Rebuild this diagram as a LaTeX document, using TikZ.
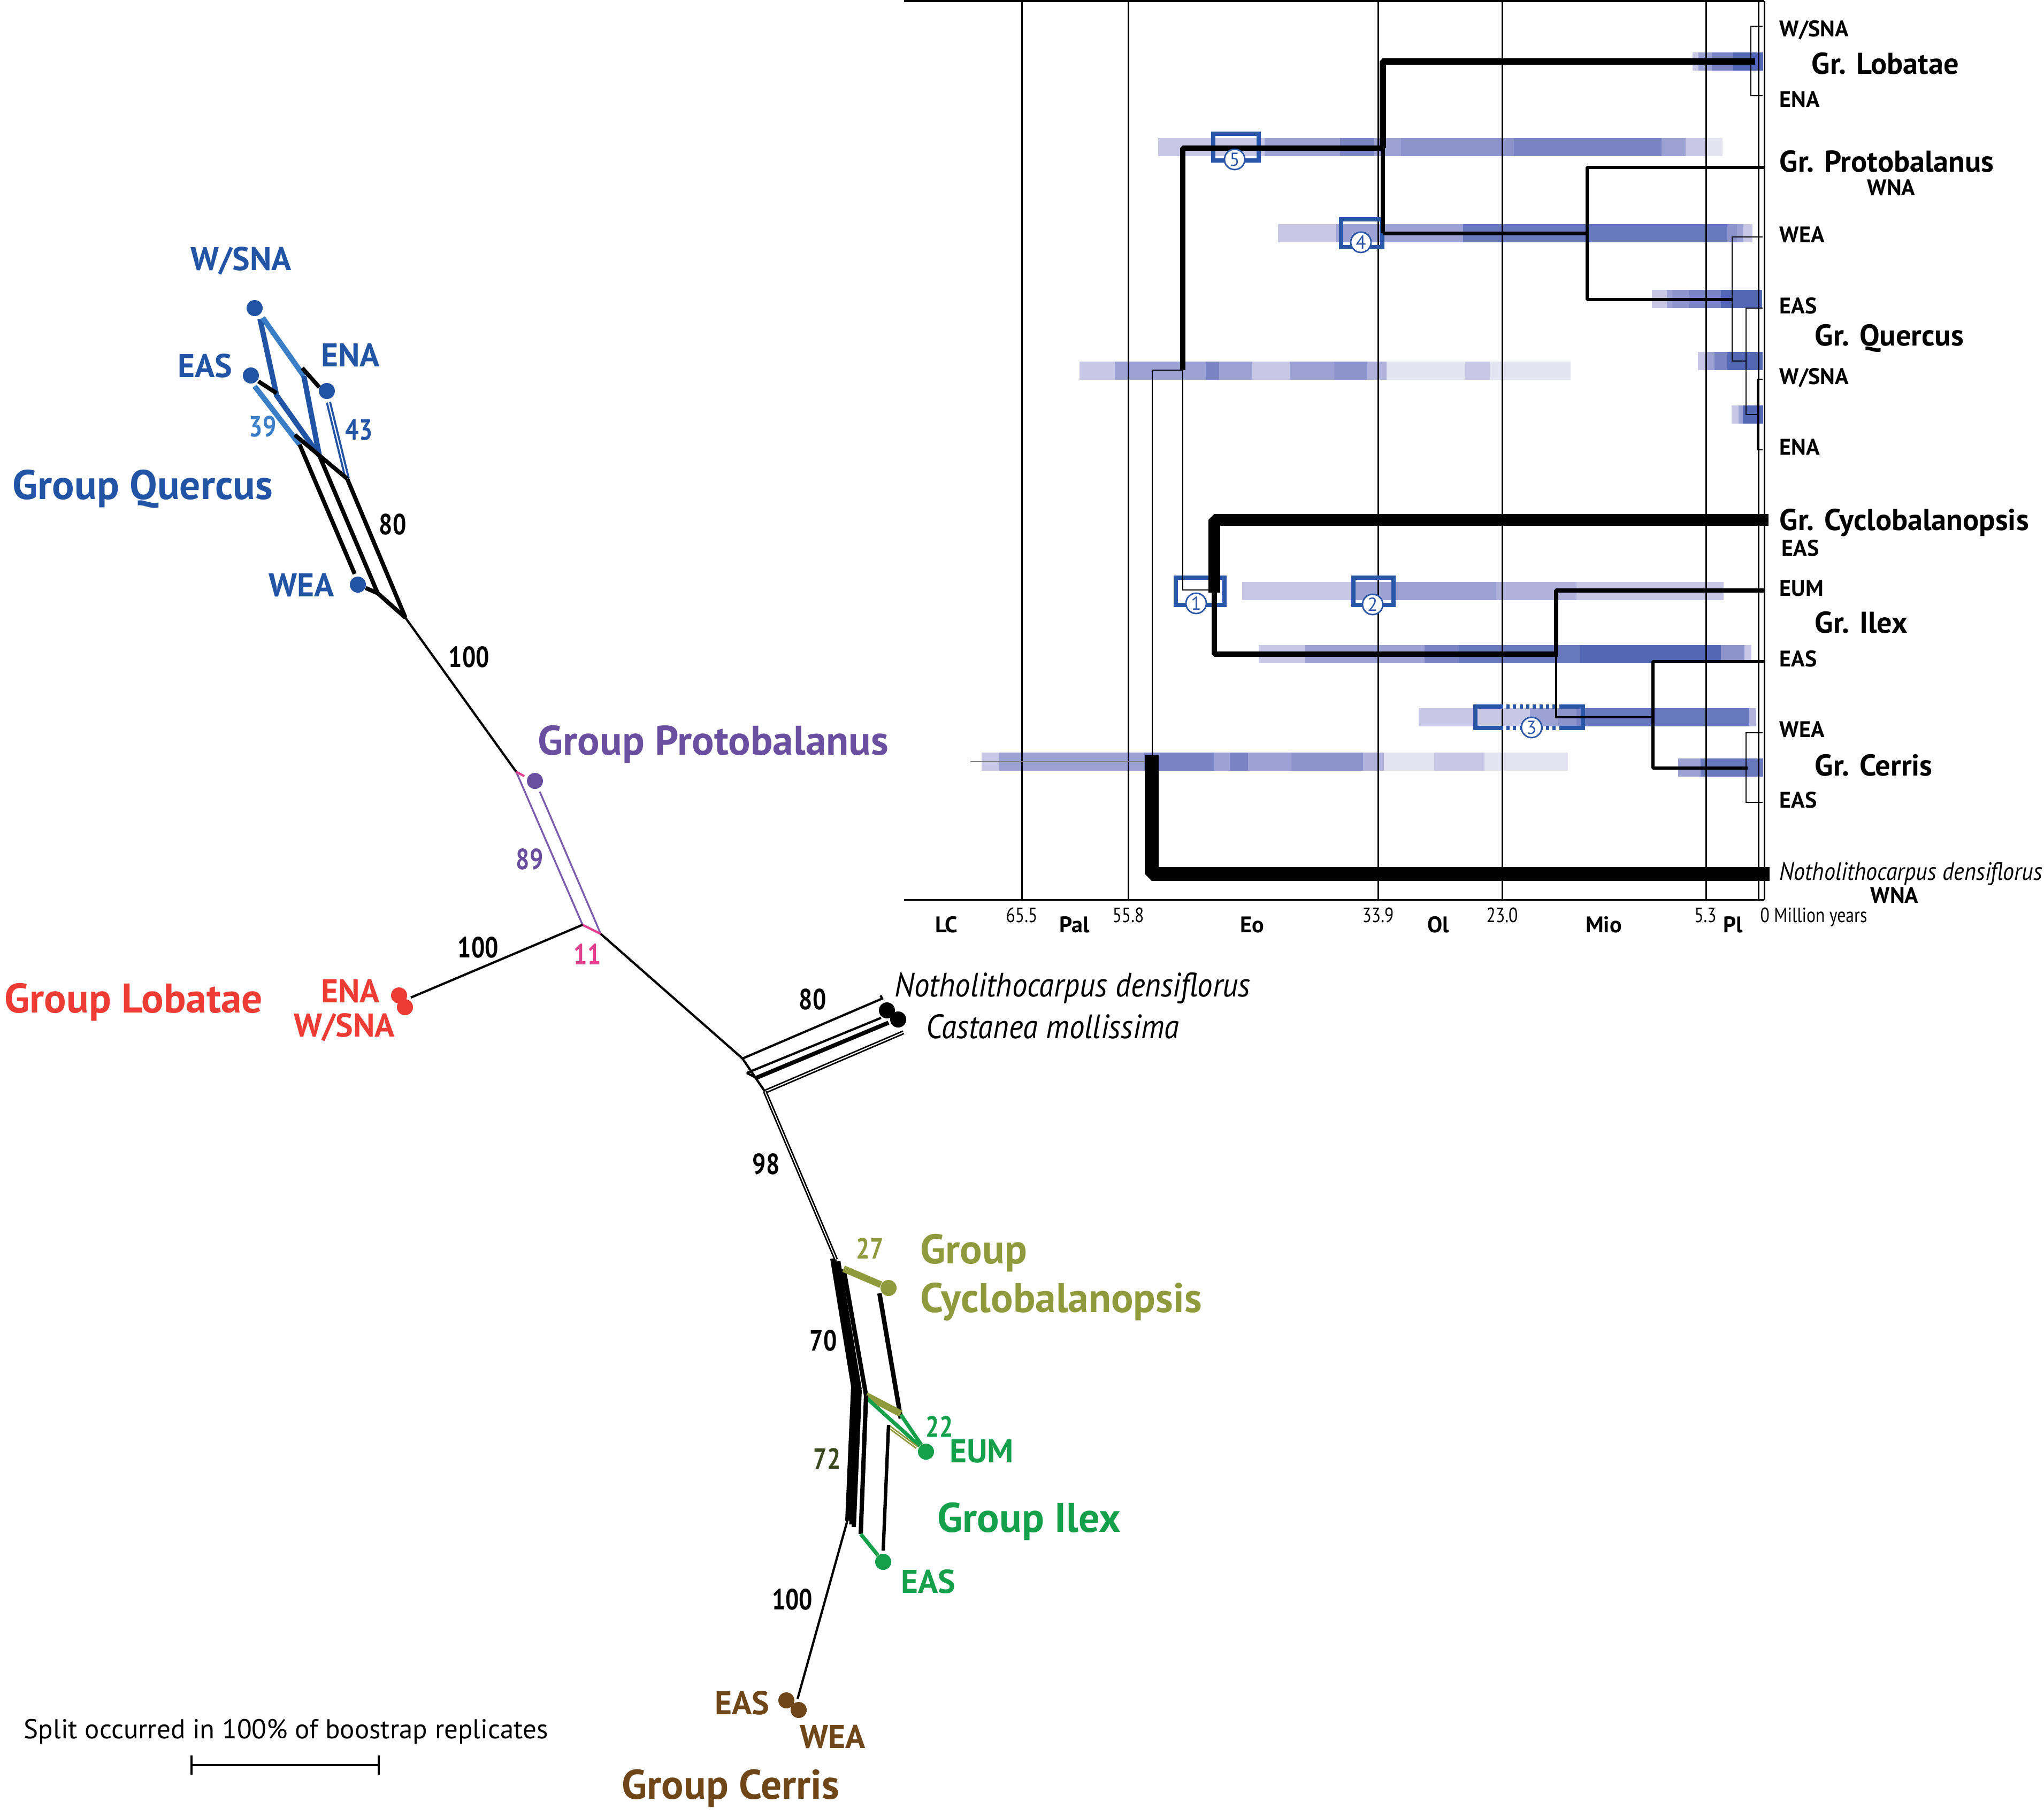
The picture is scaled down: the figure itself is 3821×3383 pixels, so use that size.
\documentclass[tikz,border=0pt]{standalone}
\usepackage{fontspec}
\setmainfont{PT Sans}
\newfontfamily\cnd[FakeStretch=0.82]{PT Sans}
\newfontfamily\cndit[FakeStretch=0.9]{PT Sans}
\definecolor{qdark}{HTML}{2254A6}
\definecolor{qlight}{HTML}{3B7EC8}
\definecolor{ppl}{HTML}{6A4EA0}
\definecolor{pline}{HTML}{7B5BAE}
\definecolor{pnk}{HTML}{E2408F}
\definecolor{lred}{HTML}{EE3B33}
\definecolor{olv}{HTML}{8E9A3B}
\definecolor{igreen}{HTML}{14A04B}
\definecolor{brn}{HTML}{6F4617}
\definecolor{dolive}{HTML}{3A4A1E}
\definecolor{boxblue}{HTML}{2A56A8}
\definecolor{Ba}{HTML}{E3E3F2}
\definecolor{Bb}{HTML}{C8C8E6}
\definecolor{Bc}{HTML}{B0B2DC}
\definecolor{Bd}{HTML}{9DA2D4}
\definecolor{Be}{HTML}{8D93CC}
\definecolor{Bf}{HTML}{7A84C4}
\definecolor{Bg}{HTML}{6878BC}
\definecolor{Bh}{HTML}{5268B4}
\newcommand{\bseg}[4]{\fill[#4] (#2,#1-17) rectangle (#3,#1+17);}
\begin{document}
\begin{tikzpicture}[x=0.01cm,y=-0.01cm,
  grp/.style={font=\fontsize{22}{26}\selectfont\bfseries, inner sep=0, anchor=base west},
  reg/.style={font=\fontsize{17.5}{20}\selectfont\bfseries, inner sep=0},
  num/.style={font=\cnd\fontsize{15.5}{18}\selectfont\bfseries, inner sep=0},
  spec/.style={font=\cndit\fontsize{18}{21}\selectfont\itshape, inner sep=0, anchor=base west},
  rlab/.style={font=\fontsize{12}{14}\selectfont\bfseries, inner sep=0, anchor=base west},
  rgrp/.style={font=\fontsize{16}{19}\selectfont\bfseries, inner sep=0, anchor=base west},
  axl/.style={font=\fontsize{12}{14}\selectfont\bfseries, inner sep=0, anchor=base},
  axn/.style={font=\cnd\fontsize{11}{13}\selectfont, inner sep=0, anchor=base},
  dot/.style={circle, inner sep=0, minimum size=0.3cm},
  cnum/.style={circle, draw=boxblue, fill=white, line width=0.8pt, minimum size=0.38cm, inner sep=0, text=boxblue, font=\fontsize{10}{12}\selectfont},
  bx/.style={draw=boxblue, line width=2.4pt},
  gridl/.style={line width=0.85pt},
  thinbr/.style={line width=0.45pt},
  net/.style={line width=1.2pt},
  par/.style={line width=2.2pt},
  bl/.style={line width=2.8pt},
  bund/.style={line width=2.3pt},
]
\fill[white] (0,0) rectangle (3821,3383);
\useasboundingbox (0,0) rectangle (3821,3383);

% ================= CHRONOGRAM =================
% bars
\bseg{115}{3164}{3175}{Bb}\bseg{115}{3175}{3200}{Bd}\bseg{115}{3200}{3240}{Bf}\bseg{115}{3240}{3296}{Bh}
\bseg{275}{2165}{2364}{Bb}\bseg{275}{2364}{2505}{Bd}\bseg{275}{2505}{2569}{Bf}\bseg{275}{2569}{2619}{Bd}
\bseg{275}{2619}{2830}{Be}\bseg{275}{2830}{3106}{Bf}\bseg{275}{3106}{3151}{Bd}\bseg{275}{3151}{3188}{Bb}\bseg{275}{3188}{3220}{Ba}
\bseg{436}{2389}{2497}{Bb}\bseg{436}{2497}{2735}{Bd}\bseg{436}{2735}{3229}{Bg}\bseg{436}{3229}{3247}{Be}\bseg{436}{3247}{3259}{Bd}\bseg{436}{3259}{3276}{Bb}
\bseg{559}{3088}{3116}{Bb}\bseg{559}{3116}{3126}{Bd}\bseg{559}{3126}{3158}{Be}\bseg{559}{3158}{3217}{Bf}\bseg{559}{3217}{3294}{Bh}
\bseg{675}{3174}{3188}{Bb}\bseg{675}{3188}{3205}{Bd}\bseg{675}{3205}{3229}{Bf}\bseg{675}{3229}{3295}{Bh}
\bseg{775}{3237}{3250}{Bb}\bseg{775}{3250}{3258}{Bd}\bseg{775}{3258}{3296}{Bh}
\bseg{693}{2018}{2084}{Bb}\bseg{693}{2084}{2254}{Bd}\bseg{693}{2254}{2279}{Bf}\bseg{693}{2279}{2341}{Bd}
\bseg{693}{2341}{2411}{Bb}\bseg{693}{2411}{2494}{Bd}\bseg{693}{2494}{2556}{Be}\bseg{693}{2556}{2592}{Bc}
\bseg{693}{2592}{2739}{Ba}\bseg{693}{2739}{2785}{Bb}\bseg{693}{2785}{2936}{Ba}
\bseg{1105}{2322}{2530}{Bb}\bseg{1105}{2530}{2797}{Bd}\bseg{1105}{2797}{2947}{Bc}\bseg{1105}{2947}{3222}{Bb}
\bseg{1223}{2353}{2440}{Bb}\bseg{1223}{2440}{2663}{Bd}\bseg{1223}{2663}{2727}{Bf}\bseg{1223}{2727}{2953}{Bg}
\bseg{1223}{2953}{3217}{Bh}\bseg{1223}{3217}{3261}{Be}\bseg{1223}{3261}{3274}{Bb}
\bseg{1341}{2652}{2860}{Bb}\bseg{1341}{2860}{2913}{Bd}\bseg{1341}{2913}{2947}{Be}\bseg{1341}{2947}{2960}{Bf}
\bseg{1341}{2960}{3270}{Bg}\bseg{1341}{3270}{3283}{Bc}
\bseg{1424}{1835}{1868}{Bb}\bseg{1424}{1868}{2138}{Bd}\bseg{1424}{2138}{2270}{Bf}\bseg{1424}{2270}{2299}{Bd}
\bseg{1424}{2299}{2333}{Bf}\bseg{1424}{2333}{2414}{Bd}\bseg{1424}{2414}{2548}{Be}\bseg{1424}{2548}{2587}{Bc}
\bseg{1424}{2587}{2681}{Ba}\bseg{1424}{2681}{2775}{Bb}\bseg{1424}{2775}{2931}{Ba}
\bseg{1435}{3137}{3179}{Bd}\bseg{1435}{3179}{3296}{Bg}

% frame and time lines
\draw[line width=1.1pt] (1690,2) -- (3298,2);
\draw[gridl] (1690,1682) -- (3298,1682);
\foreach \gx in {1910,2109,2576,2808,3189,3287,3298}
  \draw[gridl] (\gx,2) -- (\gx,1682);

% boxes (under tree lines)
\draw[bx] (2268,250) rectangle (2353,300);
\draw[bx] (2507,410) rectangle (2584,462);
\draw[bx] (2198,1080) rectangle (2289,1131);
\draw[bx] (2530,1080) rectangle (2605,1131);
\draw[bx] (2810,1321) -- (2758,1321) -- (2758,1361) -- (2810,1361);
\draw[bx] (2915,1321) -- (2959,1321) -- (2959,1361) -- (2915,1361);
\draw[boxblue, line width=2.4pt, dash pattern=on 1.7pt off 1.8pt] (2816,1321) -- (2912,1321);
\draw[boxblue, line width=2.4pt, dash pattern=on 1.7pt off 1.8pt] (2816,1361) -- (2912,1361);

% tree
\coordinate (tLob) at (3281,115);
\draw[line width=3.5pt, line join=bevel] (2585,277) -- (2585,115) -- (tLob);
\draw[line width=2.3pt] (2585,277) -- (2585,436);
\draw[line width=2.8pt, line join=bevel] (2211,692) -- (2211,277) -- (2585,277);
\draw[line width=2pt] (2585,436) -- (2967,436);
\draw[line width=1.7pt, line join=bevel] (3298,313) -- (2967,313) -- (2967,560) -- (3240,560);
\draw[line width=0.6pt] (2262,1103) -- (2211,1103) -- (2211,692) -- (2154,692) -- (2154,1424);
\draw[line width=0.4pt, gray] (1814,1424) -- (2154,1424);
\draw[line width=7.4pt, line join=bevel] (2153,1412) -- (2153,1634) -- (3308,1634);
\draw[line width=6.2pt, line join=bevel] (2270,1108) -- (2270,972) -- (3306,972);
\draw[line width=3.1pt, line join=bevel] (2270,1100) -- (2270,1223) -- (2912,1223);
\draw[line width=2.4pt, line join=bevel] (2909,1225) -- (2909,1104) -- (3298,1104);
\draw[line width=1.1pt] (2909,1223) -- (2909,1341) -- (3090,1341);
\draw[line width=1.5pt, line join=bevel] (3298,1237) -- (3090,1237) -- (3090,1436) -- (3267,1436);
% thin brackets
\draw[thinbr] (3295,49) -- (3273,49) -- (3273,179) -- (3295,179);
\draw[thinbr] (3295,443) -- (3238,443) -- (3238,675) -- (3264,675);
\draw[thinbr] (3295,576) -- (3264,576) -- (3264,775) -- (3285,775);
\draw[thinbr] (3295,709) -- (3285,709) -- (3285,841) -- (3295,841);
\draw[thinbr] (3295,1370) -- (3264,1370) -- (3264,1500) -- (3295,1500);

% circled numbers
\node[cnum] (c5) at (2308,298) {5};
\node[cnum] (c4) at (2544,453) {4};
\node[cnum] (c1) at (2236,1128) {1};
\node[cnum] (c2) at (2566,1130) {2};
\node[cnum] (c3) at (2863,1360) {3};

% right labels
\node[rlab] (rl1) at (3326,68) {W/SNA};
\node[rgrp] (rg1) at (3386,138) {Gr. Lobatae};
\node[rlab] (rl2) at (3326,200) {ENA};
\node[rgrp] (rg2) at (3326,321) {Gr. Protobalanus};
\node[rlab] (rl3) at (3490,365) {WNA};
\node[rlab] (rl4) at (3326,453) {WEA};
\node[rlab] (rl5) at (3326,586) {EAS};
\node[rgrp] (rg3) at (3392,646) {Gr. Quercus};
\node[rlab] (rl6) at (3326,718) {W/SNA};
\node[rlab] (rl7) at (3326,850) {ENA};
\node[rgrp] (rg4) at (3326,991) {Gr. Cyclobalanopsis};
\node[rlab] (rl8) at (3330,1039) {EAS};
\node[rlab] (rl9) at (3326,1114) {EUM};
\node[rgrp] (rg5) at (3392,1183) {Gr. Ilex};
\node[rlab] (rl10) at (3326,1246) {EAS};
\node[rlab] (rl11) at (3326,1378) {WEA};
\node[rgrp] (rg6) at (3392,1450) {Gr. Cerris};
\node[rlab] (rl12) at (3326,1510) {EAS};
\node[font=\cndit\fontsize{13.3}{16}\selectfont\itshape, inner sep=0, anchor=base west] (rnoth) at (3326,1645) {Notholithocarpus densiflorus};
\node[rlab] (rl13) at (3496,1688) {WNA};
% axis labels
\node[axl] (aLC) at (1769,1743) {LC};
\node[axl] (aPal) at (2009,1743) {Pal};
\node[axl] (aEo) at (2341,1743) {Eo};
\node[axl] (aOl) at (2689,1743) {Ol};
\node[axl] (aMio) at (2998,1743) {Mio};
\node[axl] (aPl) at (3240,1743) {Pl};
\node[axn] (n65) at (1910,1724) {65.5};
\node[axn] (n55) at (2109,1724) {55.8};
\node[axn] (n33) at (2576,1724) {33.9};
\node[axn] (n23) at (2808,1724) {23.0};
\node[axn] (n5) at (3188,1724) {5.3};
\node[axn, anchor=base west] (n0) at (3290,1724) {0 Million years};

% ================= NETWORK =================
% Quercus
\node[dot, fill=qdark] (dW) at (476,576) {};
\node[dot, fill=qdark] (dE) at (469,702) {};
\node[dot, fill=qdark] (dN) at (611,731) {};
\node[dot, fill=qdark] (dWEA) at (669,1093) {};
\coordinate (W1) at (491,594);
\coordinate (W2) at (486,596);
\coordinate (Qa) at (517,739);
\coordinate (Qb) at (568,703);
\coordinate (Qd) at (560,831);
\coordinate (Qe) at (597,852);
\coordinate (Qf) at (649,895);
\coordinate (Qg) at (663,1073);
\coordinate (Qh) at (706,1109);
\coordinate (Qi) at (758,1155);
\coordinate (E1) at (476,722);
\coordinate (N1) at (614,752);
\draw[bl, qdark] (W2) -- (Qa) -- (Qe);
\draw[bl, qlight] (W1) -- (Qb);
\draw[bl, qdark] (Qb) -- (Qe);
\draw[bl, qlight] (E1) -- (Qd);
\draw[qdark, double=white, double distance=0.6pt, line width=1.1pt] (N1) -- (Qf);
\draw[par] (483,713) -- (517,735);
\draw[par] (565,688) -- (597,724);
\draw[par] (551,813) -- (Qf);
\draw[par] (Qd) -- (Qg);
\draw[par] (Qe) -- (Qh);
\draw[par] (Qf) -- (Qi);
\draw[par] (dWEA) -- (Qh) -- (Qi);
\node[reg, text=qdark] (lW) at (451,488) {W/SNA};
\node[reg, text=qdark] (lE) at (383,684) {EAS};
\node[reg, text=qdark] (lN) at (655,664) {ENA};
\node[reg, text=qdark] (lWEA) at (564,1094) {WEA};
\node[num, text=qlight] (n39) at (491,797) {39};
\node[num, text=qdark] (n43) at (671,804) {43};
\node[num] (n80a) at (734,980) {80};
\node[grp, text=qdark] (gQ) at (23,933) {Group Quercus};

% Protobalanus
\coordinate (Pu) at (965,1443);
\node[dot, fill=ppl] (dP) at (1000,1460) {};
\coordinate (Pl) at (1089,1729);
\coordinate (Pr) at (1123,1746);
\draw[net] (Qi) -- (Pu);
\node[num] (n100a) at (877,1228) {100};
\draw[pline, line width=0.95pt] (Pu) -- (Pl);
\draw[pline, line width=0.95pt] (1009,1480) -- (Pr);
\draw[pnk, line width=1.2pt] (Pl) -- (Pr);
\draw[pnk, line width=1.2pt] (Pu) -- (980,1451);
\node[grp, text=ppl] (gP) at (1005,1411) {Group Protobalanus};
\node[num, text=ppl] (n89) at (990,1606) {89};
\node[num, text=pnk] (n11) at (1098,1784) {11};

% Lobatae
\node[dot, fill=lred] (dL1) at (746,1861) {};
\node[dot, fill=lred] (dL2) at (757,1883) {};
\draw[net] (Pl) -- (768,1865);
\node[num] (n100b) at (894,1771) {100};
\node[grp, text=lred] (gL) at (8,1893) {Group Lobatae};
\node[reg, text=lred] (lLE) at (655,1853) {ENA};
\node[reg, text=lred] (lLW) at (644,1921) {W/SNA};

% outgroup
\coordinate (O0) at (1388,1979);
\coordinate (O1) at (1396,2006);
\coordinate (O2) at (1414,2015);
\coordinate (O3) at (1430,2041);
\draw[net] (Pr) -- (O0);
\draw[net] (O0) -- (O3);
\draw[net] (O1) -- (O2);
\node[dot, fill=black] (dNo) at (1658,1889) {};
\node[dot, fill=black] (dCa) at (1679,1906) {};
\draw[net] (O0) -- (1649,1867) -- (1646,1861);
\draw[net] (O1) -- (1647,1903);
\draw[line width=2.2pt] (O2) -- (1661,1912);
\draw[double=white, double distance=0.6pt, line width=0.8pt] (O3) -- (1689,1930);
\node[num] (n80b) at (1519,1868) {80};
\node[spec] (sNo) at (1672,1863) {Notholithocarpus densiflorus};
\node[spec] (sCa) at (1731,1941) {Castanea mollissima};
\coordinate (C0) at (1563,2355);
\draw[double=white, double distance=0.5pt, line width=0.8pt] (O3) -- (C0);
\node[num] (n98) at (1432,2176) {98};

% Cyclobalanopsis / Ilex
\coordinate (C1) at (1556,2353);
\coordinate (C2) at (1567,2358);
\coordinate (C3) at (1577,2372);
\coordinate (D1) at (1595,2592);
\coordinate (D2) at (1607,2598);
\coordinate (D3) at (1619,2609);
\coordinate (E1c) at (1584,2843);
\coordinate (E2c) at (1596,2855);
\coordinate (E3c) at (1609,2868);
\draw[bund] (C1) -- (D1);
\draw[bund] (C2) -- (D2);
\draw[bund] (C3) -- (D3);
\draw[line width=1.5pt] (1561,2355) -- (1601,2595);
\node[dot, fill=olv] (dCy) at (1661,2408) {};
\draw[olv, line width=3.6pt] (C3) -- (dCy);
\draw[line width=2.4pt] (1644,2418) -- (1684,2652);
\draw[olv, line width=3.6pt] (D3) -- (1684,2643);
\node[dot, fill=igreen] (dEUM) at (1731,2714) {};
\draw[igreen, line width=2pt] (1617,2611) -- (dEUM);
\draw[igreen, line width=2pt] (1684,2645) -- (dEUM);
\draw[olv, double=white, double distance=0.4pt, line width=0.8pt] (1661,2667) -- (1714,2706);
\draw[line width=1.8pt] (1661,2664) -- (1651,2899);
\draw[bund] (D1) -- (E1c);
\draw[bund] (D2) -- (E2c);
\draw[bund] (D3) -- (E3c);
\draw[line width=1.5pt] (1601,2595) -- (1590,2850);
\node[dot, fill=igreen] (dEASi) at (1651,2920) {};
\draw[igreen, line width=2pt] (E3c) -- (dEASi);
\node[num, text=olv] (n27) at (1626,2334) {27};
\node[grp, text=olv] (gC1) at (1720,2362) {Group};
\node[grp, text=olv] (gC2) at (1720,2453) {Cyclobalanopsis};
\node[num] (n70) at (1539,2506) {70};
\node[num, text=igreen] (n22) at (1756,2667) {22};
\node[reg, text=igreen] (lEUM) at (1835,2713) {EUM};
\node[num, text=dolive] (n72) at (1546,2727) {72};
\node[grp, text=igreen] (gI) at (1752,2864) {Group Ilex};
\node[reg, text=igreen] (lEASi) at (1735,2957) {EAS};

% Cerris
\node[dot, fill=brn] (dCe1) at (1470,3179) {};
\node[dot, fill=brn] (dCe2) at (1493,3197) {};
\draw[net] (E1c) -- (1491,3176);
\node[num] (n100c) at (1481,2990) {100};
\node[reg, text=brn] (lCE) at (1387,3184) {EAS};
\node[reg, text=brn] (lCW) at (1557,3247) {WEA};
\node[grp, text=brn] (gCe) at (1162,3363) {Group Cerris};

% scale bar
\node[font=\fontsize{14.5}{17}\selectfont, inner sep=0, anchor=base west] (scl) at (44,3250) {Split occurred in 100\% of boostrap replicates};
\coordinate (sb1) at (358,3300);
\coordinate (sb2) at (708,3300);
\draw[line width=1.2pt] (sb1) -- (sb2);
\draw[line width=1.1pt] (358,3282) -- (358,3318);
\draw[line width=1.1pt] (708,3282) -- (708,3318);
\end{tikzpicture}
\end{document}
